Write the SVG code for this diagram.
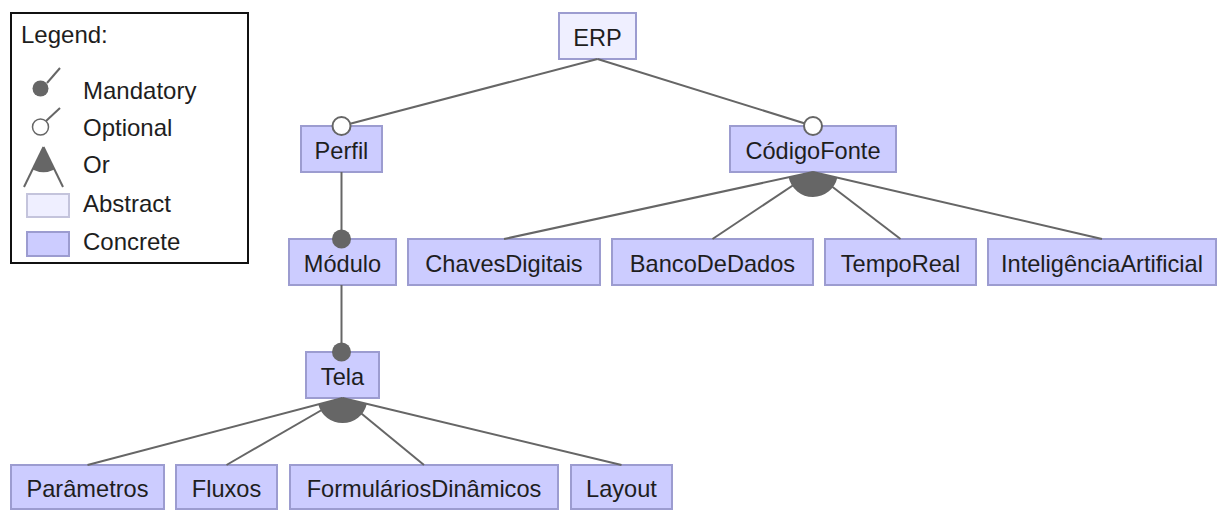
<svg xmlns="http://www.w3.org/2000/svg" width="1223" height="510" viewBox="0 0 1223 510">
<style>
text{font-family:"Liberation Sans",Arial,sans-serif;font-size:23.6px;fill:#1e1e1e}
#legend text{font-size:24px}
.n text{text-anchor:middle}
.c{fill:#ccccff;stroke:#9c9cd0;stroke-width:2}
.a{fill:#efefff;stroke:#9c9cd0;stroke-width:2}
.l{stroke:#666;stroke-width:2;fill:none}
.m{fill:#666;stroke:none}
.o{fill:#fff;stroke:#666;stroke-width:2}
.or{fill:#666;stroke:none}
</style>
<rect width="1223" height="510" fill="#fff"/>
<g id="legend">
<rect x="11" y="13" width="237" height="250" fill="#fff" stroke="#111" stroke-width="2"/>
<text x="21" y="43">Legend:</text>
<line x1="47" y1="83" x2="60" y2="68" class="l" stroke-width="1.3"/>
<circle cx="40.5" cy="88.5" r="8" class="m"/>
<text x="83" y="99">Mandatory</text>
<line x1="46" y1="121" x2="60" y2="108" class="l" stroke-width="1.3"/>
<circle cx="40.5" cy="127" r="8" fill="#fff" stroke="#666" stroke-width="1.5"/>
<text x="83" y="136">Optional</text>
<line x1="43.5" y1="147" x2="24" y2="187" class="l" stroke-width="1.3"/>
<line x1="43.5" y1="147" x2="63" y2="187" class="l" stroke-width="1.3"/>
<path d="M43.5,147 L32.5,169.5 A25,25 0 0,0 54.5,169.5 Z" class="or"/>
<text x="83" y="173">Or</text>
<rect x="27" y="194" width="42" height="23" fill="#efefff" stroke="#c4c4dc" stroke-width="2"/>
<text x="83" y="212">Abstract</text>
<rect x="27" y="232" width="42" height="24" class="c"/>
<text x="83" y="250">Concrete</text>
</g>
<g class="n" id="n-erp"><rect class="a" x="559" y="13" width="77" height="46"/><text x="597.5" y="46">ERP</text></g>
<g class="n" id="n-perfil"><rect class="c" x="301" y="126" width="81" height="46"/><text x="341.5" y="159">Perfil</text></g>
<g class="n" id="n-codigofonte"><rect class="c" x="730" y="126" width="166" height="46"/><text x="813" y="159">CódigoFonte</text></g>
<g class="n" id="n-modulo"><rect class="c" x="289" y="239" width="107" height="46"/><text x="342.5" y="272">Módulo</text></g>
<g class="n" id="n-chaves"><rect class="c" x="408" y="239" width="192" height="46"/><text x="504" y="272">ChavesDigitais</text></g>
<g class="n" id="n-banco"><rect class="c" x="612" y="239" width="201" height="46"/><text x="712.5" y="272">BancoDeDados</text></g>
<g class="n" id="n-tempo"><rect class="c" x="825" y="239" width="151" height="46"/><text x="900.5" y="272">TempoReal</text></g>
<g class="n" id="n-ia"><rect class="c" x="988" y="239" width="228" height="46"/><text x="1102" y="272">InteligênciaArtificial</text></g>
<g class="n" id="n-tela"><rect class="c" x="306" y="352" width="73" height="46"/><text x="342.5" y="385">Tela</text></g>
<g class="n" id="n-parametros"><rect class="c" x="11" y="465" width="153" height="44"/><text x="87.5" y="497">Parâmetros</text></g>
<g class="n" id="n-fluxos"><rect class="c" x="176" y="465" width="101" height="44"/><text x="226.5" y="497">Fluxos</text></g>
<g class="n" id="n-formularios"><rect class="c" x="290" y="465" width="268" height="44"/><text x="424" y="497">FormuláriosDinâmicos</text></g>
<g class="n" id="n-layout"><rect class="c" x="571" y="465" width="101" height="44"/><text x="621.5" y="497">Layout</text></g>
<g id="connectors">
<line class="l" x1="597.5" y1="59" x2="341.5" y2="126"/>
<line class="l" x1="597.5" y1="59" x2="813" y2="126"/>
<line class="l" x1="341.5" y1="172" x2="341.5" y2="239"/>
<line class="l" x1="341.5" y1="285" x2="341.5" y2="352"/>
<line class="l" x1="813" y1="172" x2="504" y2="239"/>
<line class="l" x1="813" y1="172" x2="712.5" y2="239"/>
<line class="l" x1="813" y1="172" x2="900.5" y2="239"/>
<line class="l" x1="813" y1="172" x2="1102" y2="239"/>
<line class="l" x1="342.5" y1="398" x2="87.5" y2="465"/>
<line class="l" x1="342.5" y1="398" x2="226.5" y2="465"/>
<line class="l" x1="342.5" y1="398" x2="424" y2="465"/>
<line class="l" x1="342.5" y1="398" x2="621.5" y2="465"/>
<circle class="o" cx="341.5" cy="126" r="9"/>
<circle class="o" cx="813" cy="126" r="9"/>
<circle class="m" cx="341.5" cy="239" r="9.5"/>
<circle class="m" cx="341.5" cy="352" r="9.5"/>
<path class="or" d="M813,172 L788.6,177.3 A25,25 0 0,0 837.4,177.6 Z"/>
<path class="or" d="M342.5,398 L318.3,404.4 A25,25 0 0,0 366.8,403.9 Z"/>
</g>
</svg>
